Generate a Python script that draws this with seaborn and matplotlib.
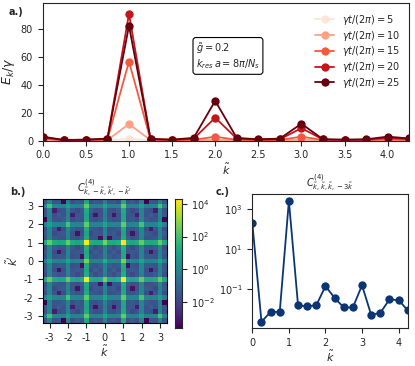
import numpy as np
import pandas as pd
import matplotlib
matplotlib.use("Agg")
import matplotlib.pyplot as plt
import seaborn as sns
from matplotlib.colors import LogNorm

sns.set_style("ticks")
plt.rcParams['font.family'] = ['DejaVu Sans']
plt.rcParams['font.size'] = 7
plt.rcParams['mathtext.fontset'] = 'dejavusans'

# ================= DATA =================
# panel a: mode energy vs k for several times
k_a = [0.0, 0.25, 0.5, 0.75, 1.0, 1.25, 1.5, 1.75, 2.0, 2.25,
       2.5, 2.75, 3.0, 3.25, 3.5, 3.75, 4.0, 4.25]
times = [5, 10, 15, 20, 25]
E_t5 = [0.3, 0.1, 0.1, 0.2, 1.5, 0.2, 0.1, 0.1, 0.2, 0.1, 0.1, 0.1, 0.3, 0.1, 0.1, 0.1, 0.2, 0.1]
E_t10 = [0.8, 0.2, 0.2, 0.4, 12.0, 0.4, 0.2, 0.3, 0.6, 0.3, 0.2, 0.2, 0.8, 0.2, 0.2, 0.2, 0.5, 0.3]
E_t15 = [1.5, 0.3, 0.4, 0.8, 56.8, 0.8, 0.4, 0.6, 2.9, 0.6, 0.4, 0.5, 2.9, 0.5, 0.3, 0.4, 1.0, 0.6]
E_t20 = [2.3, 0.4, 0.6, 1.2, 91.0, 1.2, 0.6, 1.4, 16.5, 1.5, 0.7, 1.0, 9.0, 0.9, 0.5, 0.7, 2.0, 1.1]
E_t25 = [2.9, 0.5, 0.8, 1.5, 82.4, 1.2, 0.8, 2.0, 28.6, 2.0, 1.0, 1.5, 12.2, 1.0, 0.8, 1.0, 2.9, 1.6]

# panel b: log10 of C(k,-k,k',-k') for k, k' >= 0 (rows k', cols k), mirrored to negative k
k_quarter = [0.0, 0.25, 0.5, 0.75, 1.0, 1.25, 1.5, 1.75, 2.0, 2.25, 2.5, 2.75, 3.0, 3.25]
logC_quarter = [
    [1.3, -0.1, 0.0, -0.1, 2.7, -0.1, 0.0, -0.1, 1.0, 0.0, -0.2, 0.0, 1.0, -0.1],
    [-0.1, -1.3, -1.6, -1.4, 1.2, -3.3, -1.5, -1.7, 0.0, -1.4, -1.4, -1.6, 0.0, -1.5],
    [0.0, -1.6, -1.2, -1.8, 1.1, -1.5, -1.4, -1.5, 0.0, -1.7, -3.2, -1.8, -0.1, -1.4],
    [-0.1, -1.4, -1.8, -1.2, 1.3, -1.5, -1.9, -1.4, -0.1, -1.5, -1.6, -1.3, 0.0, -1.8],
    [2.7, 1.2, 1.1, 1.3, 4.3, 1.2, 1.0, 1.2, 2.4, 1.1, 1.0, 1.2, 2.4, 1.1],
    [-0.1, -3.3, -1.5, -1.5, 1.2, -1.3, -1.7, -1.5, -0.1, -1.6, -1.6, -1.4, 0.0, -1.6],
    [0.0, -1.5, -1.4, -1.9, 1.0, -1.7, -3.2, -1.6, 0.0, -1.4, -1.5, -1.9, -0.1, -1.3],
    [-0.1, -1.7, -1.5, -1.4, 1.2, -1.5, -1.6, -1.3, 0.1, -1.8, -3.0, -1.5, 0.0, -1.7],
    [1.0, 0.0, 0.0, -0.1, 2.4, -0.1, 0.0, 0.1, 2.0, 0.0, -0.1, 0.0, 0.8, -0.1],
    [0.0, -1.4, -1.7, -1.5, 1.1, -1.6, -1.4, -1.8, 0.0, -1.3, -1.6, -1.5, -0.1, -3.6],
    [-0.2, -1.6, -3.2, -1.6, 1.0, -1.5, -1.5, -3.0, -0.1, -1.6, -1.2, -1.7, 0.0, -1.4],
    [0.0, -1.6, -1.8, -1.3, 1.2, -1.4, -1.9, -1.5, 0.0, -1.5, -1.7, -3.0, 0.1, -1.6],
    [1.0, 0.0, -0.1, 0.0, 2.4, 0.0, -0.1, 0.0, 0.8, -0.1, 0.0, 0.1, 2.0, 0.0],
    [-0.1, -1.5, -1.4, -1.8, 1.1, -1.6, -1.3, -1.7, -0.1, -3.6, -1.4, -1.6, 0.0, -1.5],
]
tick_vals_b = [-3, -2, -1, 0, 1, 2, 3]
tick_labels_b = ['-3', '-2', '-1', '0', '1', '2', '3']

# panel c: C(k,k,k,-3k)
C_c = [2.0e2, 2.2e-3, 6.9e-3, 6.9e-3, 2.6e3, 1.5e-2, 1.3e-2, 1.5e-2, 1.35e-1,
       3.5e-2, 1.15e-2, 1.15e-2, 1.5e-1, 4.9e-3, 6.2e-3, 2.9e-2, 2.7e-2, 8.3e-3]

# ================= FIGURE =================
fig = plt.figure(figsize=(4.15, 3.66), dpi=100)
ax_a = fig.add_axes([0.103, 0.6156, 0.883, 0.377])
ax_b = fig.add_axes([0.103, 0.1175, 0.2995, 0.3388])
cax = fig.add_axes([0.421, 0.1038, 0.0169, 0.3525])
ax_c = fig.add_axes([0.608, 0.1038, 0.3745, 0.365])

# ---------- a ----------
series = [E_t5, E_t10, E_t15, E_t20, E_t25]
labels = [rf"$\gamma t/(2\pi) = {t}$" for t in times]
df_a = pd.concat([pd.DataFrame({'k': k_a, 'E': vals, 'lab': lab})
                  for vals, lab in zip(series, labels)])
reds = [plt.cm.Reds(v) for v in np.linspace(0.1, 1.0, len(times))]
sns.lineplot(data=df_a, x='k', y='E', hue='lab', hue_order=labels, palette=reds,
             marker='o', markersize=6, markeredgewidth=0, linewidth=1.3,
             ax=ax_a, legend=True)
ax_a.set_xlim(0, 4.25)
ax_a.set_ylim(0, 99)
ax_a.set_xticks(np.arange(0, 4.01, 0.5))
ax_a.set_yticks([0, 20, 40, 60, 80])
ax_a.set_xlabel(r"$\tilde{k}$", labelpad=1, fontsize=8)
ax_a.set_ylabel(r"$\overline{E}_k/\gamma$", labelpad=2, fontsize=9)
ax_a.legend(loc='upper right', frameon=False, fontsize=7, handlelength=2.0,
            labelspacing=0.18, bbox_to_anchor=(1.0, 0.99))
ax_a.text(0.418, 0.725, "$\\tilde{g} = 0.2$\n$k_{res}\\,a = 8\\pi/N_s$",
          transform=ax_a.transAxes, ha='left', va='top', fontsize=7,
          bbox=dict(boxstyle='round,pad=0.3', fc='white', ec='black', lw=0.8))

# ---------- b ----------
Q = np.array(logC_quarter)
full = np.block([[Q[:0:-1, :0:-1], Q[:0:-1, :]],
                 [Q[:, :0:-1], Q]])
k_full = np.concatenate([-np.array(k_quarter[:0:-1]), k_quarter])
C_b = 10.0 ** full
sns.heatmap(C_b[::-1], ax=ax_b, cmap='viridis', norm=LogNorm(), cbar_ax=cax,
            xticklabels=False, yticklabels=False)
n = len(k_full)
xpos = [int(np.argmin(np.abs(k_full - t))) + 0.5 for t in tick_vals_b]
ypos = [n - 1 - int(np.argmin(np.abs(k_full - t))) + 0.5 for t in tick_vals_b]
ax_b.set_xticks(xpos)
ax_b.set_xticklabels(tick_labels_b, rotation=0)
ax_b.set_yticks(ypos)
ax_b.set_yticklabels(tick_labels_b, rotation=0)
ax_b.tick_params(length=3.5)
for s in ax_b.spines.values():
    s.set_visible(True)
    s.set_color('black')
    s.set_linewidth(0.8)
ax_b.set_xlabel(r"$\tilde{k}$", labelpad=1, fontsize=8)
ax_b.set_ylabel(r"$\tilde{k}'$", labelpad=2, fontsize=8)
ax_b.set_title(r"$C^{(4)}_{\tilde{k},-\tilde{k},\tilde{k}',-\tilde{k}'}$", fontsize=7, pad=2)
cax.set_yticks([1e-2, 1e0, 1e2, 1e4])
cax.minorticks_off()
for s in cax.spines.values():
    s.set_visible(True)

# ---------- c ----------
sns.lineplot(x=k_a, y=C_c, marker='o', markersize=6, markeredgewidth=0,
             color='#0b3574', linewidth=1.3, ax=ax_c)
ax_c.set_yscale('log')
ax_c.set_xlim(0, 4.25)
ax_c.set_ylim(10 ** -2.97, 10 ** 3.74)
ax_c.set_xticks([0, 1, 2, 3, 4])
ax_c.set_yticks([1e-1, 1e1, 1e3])
ax_c.minorticks_off()
ax_c.set_xlabel(r"$\tilde{k}$", labelpad=1, fontsize=8)
ax_c.set_title(r"$C^{(4)}_{\tilde{k},\tilde{k},\tilde{k},-3\tilde{k}}$", fontsize=7, pad=2)

# panel labels
fig.text(0.02, 0.968, "a.)", fontweight='bold', va='center', fontsize=7)
fig.text(0.025, 0.475, "b.)", fontweight='bold', va='center', fontsize=7)
fig.text(0.52, 0.475, "c.)", fontweight='bold', va='center', fontsize=7)

fig.savefig("out.png", dpi=100)
